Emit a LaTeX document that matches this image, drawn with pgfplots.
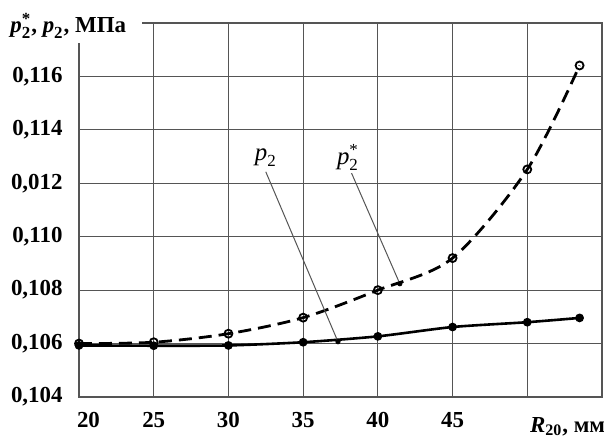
\documentclass[border=0pt]{standalone}
\usepackage{pgfplots}
\pgfplotsset{compat=1.18}
\usepackage{fontspec}
\setmainfont{Liberation Serif}
\definecolor{gridc}{RGB}{85,85,85}
\newcommand{\pst}{$\mbox{\itshape p}_{\mbox{\fontsize{8.5}{9}\selectfont\upshape 2}}^{\mbox{\fontsize{8.5}{9}\selectfont\upshape *}}$}
\newcommand{\pp}{$\mbox{\itshape p}_{\mbox{\fontsize{8.5}{9}\selectfont\upshape 2}}$}
\begin{document}
\begin{tikzpicture}
\useasboundingbox (-39.5bp,-19.5bp) rectangle (262.5bp,198.5bp);
\begin{axis}[
  name=ax, at={(0,0)}, anchor=south west, scale only axis,
  width=261.5bp, height=187bp,
  xmin=20, xmax=55, ymin=0.104, ymax=0.118,
  xtick={20,25,30,35,40,45,50,55},
  xticklabels={\makebox[0pt][l]{\hspace{-1bp}20},25,30,35,40,45,,},
  ytick={0.104,0.106,0.108,0.110,0.112,0.114,0.116,0.118},
  yticklabels={{0,104},{0,106},{0,108},{0,110},{0,012},{0,114},{0,116},},
  grid=major,
  major grid style={draw=gridc, line width=0.6bp},
  axis line style={draw=gridc, line width=0.6bp},
  major tick length=0pt,
  tick label style={font=\fontsize{11.5}{13}\selectfont\bfseries},
  xticklabel style={yshift=-4bp},
  yticklabel style={xshift=-4.7bp},
  /pgf/number format/assume math mode=true,
]
% p2* dashed
\addplot[black, line width=1.4bp, dash pattern=on 6.5bp off 3.5bp, smooth, tension=0.5,
  mark=o, mark size=2bp, mark options={solid, line width=0.9bp}]
  coordinates {(20,0.10600) (25,0.10605) (30,0.10637) (35,0.10697) (40,0.10800) (45,0.10920) (50,0.11252) (53.5,0.11641)};
% p2 solid
\addplot[black, line width=1.3bp, smooth, tension=0.4,
  mark=*, mark size=1.5bp]
  coordinates {(20,0.10593) (25,0.10592) (30,0.10593) (35,0.10605) (40,0.10627) (45,0.10662) (50,0.10680) (53.5,0.10696)};
% leader lines
\addplot[gridc, line width=0.5bp, mark=none] coordinates {(32.5,0.11243) (37.33,0.10607)};
\addplot[gridc, line width=0.5bp, mark=none] coordinates {(38.2,0.11243) (41.47,0.10824)};
\addplot[only marks, black, mark=*, mark size=1.1bp] coordinates {(37.33,0.10607) (41.47,0.10824)};
\node[font=\fontsize{12.5}{13}\selectfont, fill=white, inner sep=1bp] at (axis cs:32.5,0.11295) {\pp};
\node[font=\fontsize{12.5}{13}\selectfont, fill=white, inner sep=1bp] at (axis cs:38.0,0.11295) {\pst};
\end{axis}
% x axis label
\node[font=\fontsize{11.5}{13}\selectfont\bfseries, anchor=base west] at ([xshift=-1bp,yshift=-17.5bp]ax.south west -| {(262bp-39bp,0)}) {\textit{R}\textsubscript{20}, мм};
% y axis label with white background
\fill[white] ([xshift=-40bp,yshift=12bp]ax.north west) rectangle ([xshift=31.5bp,yshift=-10bp]ax.north west);
\node[font=\fontsize{11.5}{13}\selectfont\bfseries, anchor=base west, inner sep=0pt] at ([xshift=-34.5bp,yshift=-5bp]ax.north west) {\pst, \pp, МПа};
\end{tikzpicture}
\end{document}
